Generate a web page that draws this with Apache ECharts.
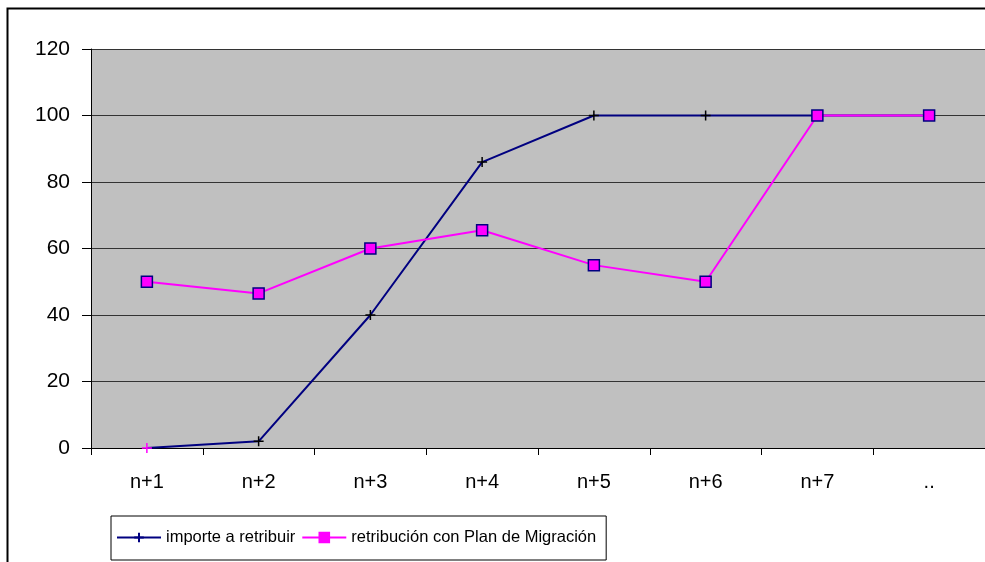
<!DOCTYPE html>
<html>
<head>
<meta charset="utf-8">
<script src="https://cdn.jsdelivr.net/npm/echarts@6/dist/echarts.min.js"></script>
<style>
  html, body { margin: 0; padding: 0; background: #fff; }
  #main { width: 985px; height: 562px; }
</style>
</head>
<body>
<div id="main"></div>
<script>
var categories = ['n+1', 'n+2', 'n+3', 'n+4', 'n+5', 'n+6', 'n+7', '..'];
var importeValues = [0, 2, 40, 86, 100, 100, 100, 100];
var migracionValues = [50, 46.5, 60, 65.5, 55, 50, 100, 100];
var yTicks = [0, 20, 40, 60, 80, 100, 120];

var myChart = echarts.init(document.getElementById('main'));

// primer punto de la serie azul lleva el marcador en magenta
var importeData = importeValues.map(function (v, i) {
    if (i === 0) {
        return { value: v, itemStyle: { borderColor: '#FF00FF' } };
    }
    return v;
});

var option = {
    animation: false,
    textStyle: { fontFamily: 'Liberation Sans, Arial, sans-serif' },
    graphic: [{
        type: 'rect',
        shape: { x: 7.5, y: 8.5, width: 1200, height: 800 },
        style: { fill: 'none', stroke: '#000', lineWidth: 2 },
        z: 100
    }],
    grid: {
        left: 91,
        top: 49,
        width: 896,
        height: 399,
        show: true,
        backgroundColor: '#C0C0C0',
        borderWidth: 0
    },
    legend: {
        left: 111,
        top: 516,
        orient: 'horizontal',
        borderColor: '#000',
        borderWidth: 1,
        padding: [13, 10, 14, 5],
        itemGap: 6,
        itemWidth: 44,
        itemHeight: 12,
        textStyle: { fontSize: 16.5, color: '#000', fontFamily: 'Liberation Sans, Arial, sans-serif' },
        data: [
            { name: 'importe a retribuir', itemStyle: { borderColor: '#000080' } },
            { name: 'retribución con Plan de Migración', itemStyle: { borderColor: '#FF00FF' } }
        ]
    },
    xAxis: {
        type: 'category',
        data: categories,
        boundaryGap: true,
        axisLine: { lineStyle: { color: '#000', width: 1 } },
        axisTick: { show: true, length: 7, lineStyle: { color: '#000' } },
        axisLabel: { color: '#000', fontSize: 20, margin: 24 }
    },
    yAxis: {
        type: 'value',
        min: 0,
        max: 120,
        interval: 20,
        axisLine: { show: true, lineStyle: { color: '#000', width: 1 } },
        axisTick: { show: true, length: 9, lineStyle: { color: '#000' } },
        axisLabel: {
            color: '#000', fontSize: 21, margin: 21,
            formatter: function (v) { return yTicks.indexOf(v) >= 0 ? String(v) : ''; }
        },
        splitLine: { show: true, lineStyle: { color: '#333', width: 1 } }
    },
    series: [
        {
            name: 'importe a retribuir',
            type: 'line',
            data: importeData,
            symbol: 'path://M5,0L5,10M0,5L10,5',
            symbolSize: [10, 10],
            showAllSymbol: true,
            lineStyle: { color: '#000080', width: 2 },
            itemStyle: { color: '#000080', borderColor: '#000', borderWidth: 1.5 },
            z: 2
        },
        {
            name: 'retribución con Plan de Migración',
            type: 'line',
            data: migracionValues,
            symbol: 'rect',
            symbolSize: 11,
            showAllSymbol: true,
            lineStyle: { color: '#FF00FF', width: 2 },
            itemStyle: { color: '#FF00FF', borderColor: '#000080', borderWidth: 1.5 },
            z: 3
        }
    ]
};

myChart.setOption(option);
</script>
</body>
</html>
